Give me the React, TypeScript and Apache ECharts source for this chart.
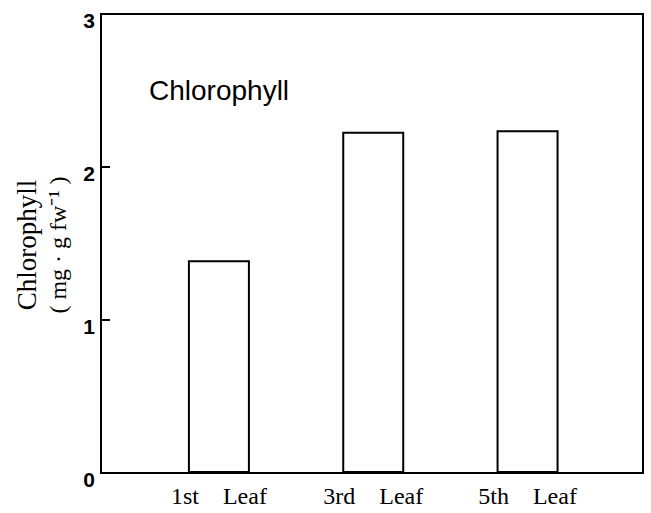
import React, { useEffect, useRef } from "react";
import * as echarts from "echarts";

const categories = ["1st    Leaf", "3rd    Leaf", "5th    Leaf"];
const positions = [1, 2, 3];
const chlorophyll = [1.39, 2.23, 2.24];
const yTicks = [0, 1, 2, 3];

export default function App() {
  const ref = useRef<HTMLDivElement>(null);
  useEffect(() => {
    if (!ref.current) return;
    const chart = echarts.init(ref.current, undefined, { renderer: "svg" });
    chart.setOption({
      animation: false,
      backgroundColor: "#ffffff",
      grid: {
        left: 101,
        right: 8,
        top: 14,
        bottom: 40,
        show: true,
        borderColor: "#000",
        borderWidth: 2,
        backgroundColor: "transparent",
      },
      xAxis: {
        type: "value",
        min: 0.236,
        max: 3.748,
        splitLine: { show: false },
        axisLine: { show: true, lineStyle: { color: "#000", width: 2 } },
        axisTick: { show: false },
        axisLabel: {
          customValues: positions,
          formatter: (v: number) => {
            const i = positions.indexOf(Math.round(v));
            return i >= 0 ? categories[i] : "";
          },
          fontFamily: "Liberation Serif",
          fontSize: 24,
          color: "#000",
          margin: 11,
        },
      },
      yAxis: {
        type: "value",
        min: 0,
        max: 3,
        interval: 1,
        splitLine: { show: false },
        axisLine: { show: true, lineStyle: { color: "#000", width: 2 } },
        axisTick: {
          show: true,
          inside: true,
          length: 9,
          lineStyle: { color: "#000", width: 2 },
          customValues: yTicks,
        },
        axisLabel: {
          customValues: yTicks,
          formatter: (v: number) => "{d|" + v + "}",
          margin: 6,
          rich: {
            d: {
              fontFamily: "Liberation Sans",
              fontWeight: "bold",
              fontSize: 21,
              color: "#000",
              padding: [13, 0, 0, 0],
            },
          },
        },
      },
      series: [
        {
          type: "bar",
          barWidth: 62,
          data: positions.map((p, i) => [p, chlorophyll[i]]),
          itemStyle: { color: "#fff", borderColor: "#000", borderWidth: 2 },
        },
      ],
      graphic: [
        {
          type: "text",
          left: 149,
          top: 76,
          style: {
            text: "Chlorophyll",
            font: "28px 'Liberation Sans'",
            fill: "#000",
          },
        },
        {
          type: "text",
          x: 27,
          y: 245,
          rotation: Math.PI / 2,
          style: {
            text: "Chlorophyll",
            font: "27px 'Liberation Serif'",
            fill: "#000",
            align: "center",
            verticalAlign: "middle",
          },
        },
        {
          type: "text",
          x: 58,
          y: 245,
          rotation: Math.PI / 2,
          style: {
            text: "( mg · g fw\u207B\u00B9 )",
            font: "24px 'Liberation Serif'",
            fill: "#000",
            align: "center",
            verticalAlign: "middle",
          },
        },
      ],
    });
    return () => chart.dispose();
  }, []);
  return (
    <div
      ref={ref}
      style={{ position: "fixed", left: 0, top: 0, width: 651, height: 513 }}
    />
  );
}
